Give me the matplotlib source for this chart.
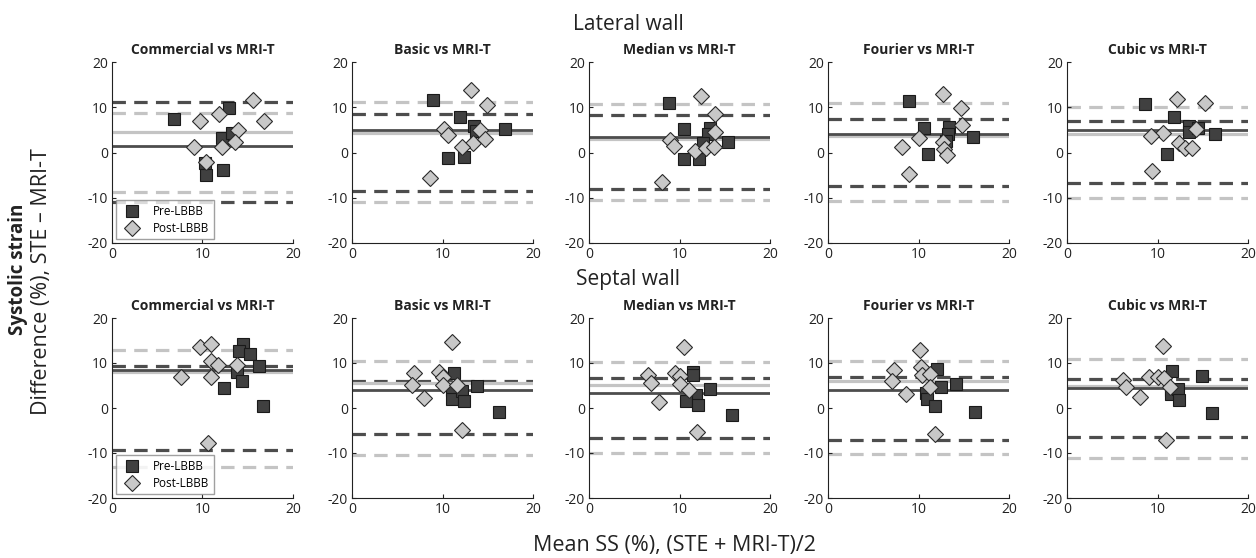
import numpy as np
import matplotlib
matplotlib.use('Agg')
import matplotlib.pyplot as plt

plt.rcParams['font.family'] = ['Open Sans', 'DejaVu Sans']
plt.rcParams['axes.unicode_minus'] = False

methods = ['Commercial', 'Basic', 'Median', 'Fourier', 'Cubic']
walls = ['Lateral wall', 'Septal wall']

# lateral wall, pre-LBBB (mean SS, difference)
lat_pre_x = [[6.9, 12.9, 12.2, 13.3, 10.3, 10.4, 12.3],
             [9.0, 11.9, 13.5, 16.9, 10.6, 12.4, 13.7],
             [8.8, 10.5, 13.4, 13.2, 12.6, 15.4, 10.5, 12.2],
             [9.0, 10.6, 13.4, 13.3, 13.0, 16.0, 11.1],
             [8.6, 11.8, 13.5, 13.5, 14.5, 16.3, 11.1]]
lat_pre_y = [[7.3, 9.8, 3.2, 4.3, -2.3, -4.9, -3.9],
             [11.5, 7.9, 5.8, 5.3, -1.3, -0.9, 4.7],
             [10.9, 5.2, 5.4, 4.0, 2.0, 2.3, -1.5, -1.4],
             [11.4, 5.4, 5.6, 4.0, 2.5, 3.4, -0.4],
             [10.7, 7.8, 5.8, 4.6, 5.4, 4.1, -0.3]]
# lateral wall, post-LBBB
lat_post_x = [[15.6, 9.7, 11.8, 16.8, 13.9, 9.1, 12.2, 13.6, 10.4],
              [13.1, 14.9, 10.2, 10.6, 14.1, 13.4, 14.7, 12.1, 8.6],
              [12.4, 13.9, 13.9, 9.0, 9.4, 11.7, 12.9, 13.8, 8.1],
              [12.7, 14.7, 14.8, 10.0, 8.2, 12.7, 12.8, 13.2, 9.0],
              [12.1, 15.2, 14.3, 10.6, 9.3, 12.4, 13.0, 13.8, 9.4]]
lat_post_y = [[11.7, 6.9, 8.4, 6.9, 4.9, 1.2, 1.2, 2.4, -2.1],
              [13.8, 10.4, 5.2, 3.8, 4.9, 2.1, 2.9, 1.2, -5.6],
              [12.4, 8.4, 4.5, 2.7, 1.4, 0.3, 0.9, 1.2, -6.5],
              [12.9, 9.9, 6.1, 3.2, 1.3, 2.4, 0.7, -0.5, -4.8],
              [11.8, 11.0, 5.3, 4.4, 3.6, 2.0, 1.0, 0.9, -4.0]]

# septal wall, pre-LBBB
sep_pre_x = [[14.5, 14.0, 15.2, 16.2, 13.8, 14.4, 12.4, 16.7],
             [11.3, 11.1, 11.1, 12.1, 12.4, 13.8, 16.2],
             [11.5, 11.5, 11.8, 10.7, 12.0, 13.4, 15.8],
             [12.0, 10.8, 10.9, 12.5, 14.1, 11.8, 16.2],
             [11.6, 11.5, 11.5, 12.3, 12.4, 14.9, 16.0]]
sep_pre_y = [[14.2, 12.7, 12.1, 9.4, 7.9, 6.1, 4.4, 0.4],
             [7.7, 4.0, 2.1, 3.8, 1.6, 4.9, -0.9],
             [8.1, 7.3, 2.9, 1.5, 0.7, 4.2, -1.5],
             [8.6, 3.3, 2.0, 4.7, 5.3, 0.5, -0.9],
             [8.3, 4.0, 3.1, 4.2, 1.7, 7.2, -1.1]]
# septal wall, post-LBBB
sep_post_x = [[9.7, 10.9, 10.9, 11.7, 13.8, 7.6, 10.9, 10.6],
              [11.1, 6.9, 6.6, 8.0, 9.6, 10.0, 10.0, 11.6, 12.1],
              [10.5, 6.5, 6.9, 7.7, 9.5, 10.0, 10.0, 11.1, 11.9],
              [10.2, 7.3, 7.1, 8.6, 10.3, 10.4, 11.3, 11.3, 11.8],
              [10.6, 6.2, 6.5, 8.1, 9.1, 10.1, 10.7, 11.4, 10.9]]
sep_post_y = [[13.6, 14.2, 10.5, 9.6, 9.6, 7.0, 6.8, -7.8],
              [14.7, 7.8, 5.2, 2.2, 8.1, 6.9, 5.1, 5.2, -4.9],
              [13.6, 7.4, 5.5, 1.4, 7.7, 7.1, 5.3, 4.1, -5.4],
              [12.8, 8.4, 6.0, 3.2, 9.2, 7.3, 7.5, 4.6, -5.8],
              [13.7, 6.3, 4.7, 2.4, 6.8, 6.8, 6.6, 4.7, -7.2]]

# bias and limits of agreement: [mean, upper, lower]
lat_pre_lines = [[1.5, 11.1, -11.0], [4.9, 8.5, -8.4], [3.5, 8.2, -8.1], [4.0, 7.5, -7.4], [5.0, 6.9, -6.8]]
lat_post_lines = [[4.6, 8.7, -8.7], [4.4, 11.1, -11.0], [2.9, 10.7, -10.6], [3.6, 11.0, -10.8], [4.0, 10.0, -10.0]]
sep_pre_lines = [[8.5, 9.3, -9.4], [3.9, 6.0, -5.8], [3.3, 6.6, -6.6], [4.1, 7.0, -7.1], [4.4, 6.4, -6.4]]
sep_post_lines = [[8.1, 12.9, -13.0], [5.6, 10.4, -10.4], [5.1, 10.3, -10.1], [6.0, 10.4, -10.3], [4.9, 11.0, -11.1]]

dark = '#4d4d4d'
light = '#c4c4c4'

fig = plt.figure(figsize=(12.56, 5.58), dpi=100)

lefts = [112, 352, 589, 828, 1067]
rows = [(62, 243), (318, 498)]

data = [(lat_pre_x, lat_pre_y, lat_post_x, lat_post_y, lat_pre_lines, lat_post_lines),
        (sep_pre_x, sep_pre_y, sep_post_x, sep_post_y, sep_pre_lines, sep_post_lines)]

for r in range(2):
    top, bot = rows[r]
    px, py, qx, qy, pl, ql = data[r]
    for i in range(5):
        ax = fig.add_axes([lefts[i] / 1256, 1 - bot / 558, 181 / 1256, (bot - top) / 558])
        # limits / bias lines
        ax.axhline(ql[i][1], color=light, lw=2.3, dashes=(4.2, 2.6), zorder=1)
        ax.axhline(ql[i][2], color=light, lw=2.3, dashes=(4.2, 2.6), zorder=1)
        ax.axhline(pl[i][1], color=dark, lw=2.3, dashes=(4.2, 2.6), zorder=1)
        ax.axhline(pl[i][2], color=dark, lw=2.3, dashes=(4.2, 2.6), zorder=1)
        ax.axhline(ql[i][0], color=light, lw=2.3, zorder=1)
        ax.axhline(pl[i][0], color=dark, lw=2.0, zorder=1)
        ax.plot(px[i], py[i], 's', ms=8, mfc='#404040', mec='#1a1a1a', mew=0.8,
                ls='none', label='Pre-LBBB', zorder=3)
        ax.plot(qx[i], qy[i], 'D', ms=8.5, mfc='#c8c8c8', mec='#2a2a2a', mew=0.8,
                ls='none', label='Post-LBBB', zorder=4)
        ax.set_xlim(0, 20)
        ax.set_ylim(-20, 20)
        ax.set_xticks([0, 10, 20])
        ax.set_yticks([-20, -10, 0, 10, 20])
        ax.spines['top'].set_visible(False)
        ax.spines['right'].set_visible(False)
        ax.spines['left'].set_color('#222222')
        ax.spines['bottom'].set_color('#222222')
        ax.tick_params(direction='in', length=3, labelsize=10, colors='#222222', pad=3)
        ax.set_title(methods[i] + ' vs MRI-T', fontsize=10, fontweight='bold',
                     color='#222222', pad=6)
        if i == 0:
            leg = ax.legend(loc='lower left', fontsize=8.5, frameon=True, fancybox=False,
                            borderaxespad=0.3, handletextpad=0.8, borderpad=0.4,
                            labelspacing=0.3)
            leg.get_frame().set_edgecolor('#888888')
            leg.get_frame().set_linewidth(1.0)

fig.text(0.5, 1 - 25 / 558, 'Lateral wall', ha='center', va='center', fontsize=15, color='#222222')
fig.text(0.5, 1 - 280 / 558, 'Septal wall', ha='center', va='center', fontsize=15, color='#222222')
fig.text(674 / 1256, 1 - 546 / 558, 'Mean SS (%), (STE + MRI-T)/2', ha='center', va='center',
         fontsize=15.5, color='#222222')
fig.text(18 / 1256, 1 - 269 / 558, 'Systolic strain', ha='center', va='center', rotation=90,
         fontsize=13.5, fontweight='bold', color='#222222')
fig.text(42 / 1256, 1 - 282 / 558, 'Difference (%), STE \u2013 MRI-T', ha='center', va='center',
         rotation=90, fontsize=15.5, color='#222222')

fig.savefig('out.png', dpi=100)
